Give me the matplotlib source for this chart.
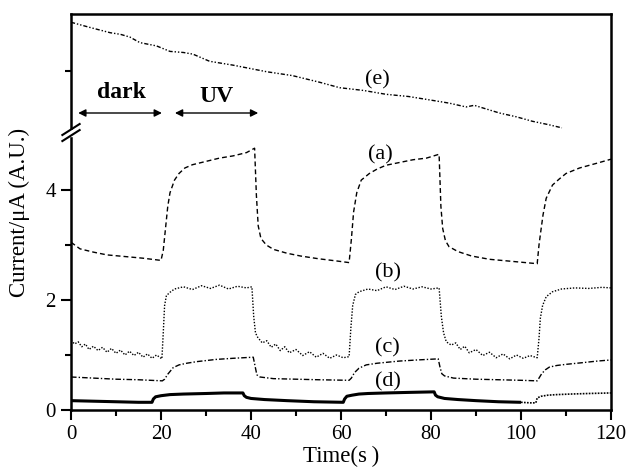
"""Photocurrent response under dark / UV cycles"""

import matplotlib
matplotlib.use("Agg")
import matplotlib.pyplot as plt
import matplotlib.transforms as mtransforms

plt.rcParams['font.family'] = ['Liberation Serif', 'DejaVu Serif']

# (a) dashed
time_a = [0, 2, 5, 8, 12, 16, 20, 20.5, 21, 21.5, 22, 23, 24, 25.3, 27, 30, 33,
          36, 39, 40.8, 41.2, 41.6, 42.2, 43.4, 45, 48, 51, 55, 59, 61.8, 62.3,
          62.8, 63.5, 64.5, 66.3, 68, 70, 73, 76, 79, 81.8, 82.2, 82.6, 83.2, 84,
          86, 89, 93, 97, 101, 103.6, 104, 104.4, 104.9, 105.6, 107, 108.5, 110,
          113, 117, 120]
current_a = [3.05, 2.93, 2.87, 2.82, 2.79, 2.76, 2.72, 2.9, 3.3, 3.7, 3.95, 4.18,
             4.3, 4.4, 4.46, 4.52, 4.58, 4.62, 4.68, 4.76, 3.9, 3.35, 3.12, 3.0,
             2.92, 2.85, 2.8, 2.75, 2.71, 2.68, 3.1, 3.6, 3.95, 4.18, 4.3, 4.38,
             4.45, 4.5, 4.55, 4.58, 4.65, 3.7, 3.3, 3.08, 2.97, 2.88, 2.8, 2.74,
             2.71, 2.68, 2.66, 3.0, 3.25, 3.55, 3.85, 4.09, 4.2, 4.3, 4.4, 4.49, 4.56]

# (b) dotted, noisy
time_b = [0, 0.8, 1.6, 2.4, 3.2, 4, 5, 6, 7, 8, 9, 10, 11, 12, 13, 14, 15, 16, 17,
          18, 19, 20.2, 20.5, 20.8, 21.2, 22, 23, 25, 27, 29, 31, 33, 35, 37, 39,
          40.2, 40.6, 41, 41.5, 42.5, 43.5, 44.5, 45.5, 46.5, 47.5, 48.5, 50, 51.5,
          53, 54.5, 56, 57.5, 59, 60.5, 61.8, 62.2, 62.6, 63.2, 64, 66, 68, 70, 72,
          74, 76, 78, 80, 81.8, 82.3, 82.8, 83.4, 84.5, 85.5, 86.5, 87.5, 88.5,
          90, 91.5, 93, 94.5, 96, 97.5, 99, 100.5, 102, 103.6, 104, 104.3, 104.8,
          105.6, 107, 109, 112, 115, 118, 120]
current_b = [1.27, 1.2, 1.24, 1.15, 1.2, 1.1, 1.16, 1.08, 1.14, 1.05, 1.12, 1.03,
             1.09, 1.0, 1.07, 0.99, 1.05, 0.96, 1.02, 0.94, 1.0, 0.93, 1.4, 1.9,
             2.08, 2.14, 2.2, 2.24, 2.19, 2.26, 2.21, 2.27, 2.2, 2.25, 2.22, 2.24,
             1.7, 1.4, 1.32, 1.22, 1.26, 1.14, 1.2, 1.08, 1.15, 1.04, 1.1, 0.99,
             1.06, 0.96, 1.03, 0.94, 1.0, 0.95, 0.97, 1.5, 1.9, 2.1, 2.15, 2.2, 2.17,
             2.24, 2.19, 2.25, 2.2, 2.24, 2.2, 2.22, 1.7, 1.4, 1.24, 1.18, 1.22, 1.1,
             1.16, 1.04, 1.1, 0.99, 1.05, 0.95, 1.02, 0.93, 1.0, 0.94, 0.99, 0.95,
             1.3, 1.67, 1.9, 2.06, 2.15, 2.2, 2.22, 2.21, 2.23, 2.22]

# (c) dash-dot
time_c = [0, 5, 10, 15, 20.3, 20.8, 21.5, 22.7, 24, 25.7, 28, 32.3, 36, 40.5, 40.9,
          41.3, 42, 45, 50, 55, 61.8, 62.3, 63, 64, 65.6, 68, 73, 77, 81.6, 82, 82.4,
          83, 85, 90, 95, 100, 103.6, 104, 104.6, 105.4, 106.3, 108, 110, 113.6,
          117, 120]
current_c = [0.6, 0.58, 0.56, 0.55, 0.53, 0.56, 0.65, 0.77, 0.82, 0.85, 0.88, 0.92,
             0.94, 0.96, 0.8, 0.64, 0.6, 0.57, 0.56, 0.55, 0.54, 0.58, 0.68, 0.76,
             0.82, 0.85, 0.89, 0.91, 0.93, 0.78, 0.66, 0.62, 0.58, 0.56, 0.55, 0.54,
             0.53, 0.58, 0.66, 0.73, 0.78, 0.81, 0.83, 0.86, 0.89, 0.91]

# (d) solid
time_d = [0, 5, 10, 15, 18, 18.3, 18.8, 20, 22, 25, 30, 34, 38.2, 38.5, 39, 40, 43,
          48, 54, 60.5, 60.8, 61.3, 62.5, 64, 66, 70, 75, 80.7, 81, 81.5, 83, 86,
          90, 95, 100]
current_d = [0.17, 0.16, 0.15, 0.14, 0.14, 0.2, 0.24, 0.26, 0.28, 0.29, 0.3, 0.31,
             0.31, 0.26, 0.23, 0.21, 0.19, 0.17, 0.15, 0.14, 0.2, 0.25, 0.27, 0.29,
             0.3, 0.31, 0.32, 0.33, 0.27, 0.24, 0.21, 0.19, 0.17, 0.15, 0.14]
time_d_tail = [100, 102, 103.3, 103.6, 104.5, 106, 108, 111, 115, 120]
current_d_tail = [0.14, 0.13, 0.13, 0.22, 0.25, 0.27, 0.28, 0.29, 0.3, 0.31]

# (e) upper curve, shown above the axis break
time_e = [0, 4, 8.7, 11, 13.1, 15.3, 19, 22, 25, 27.1, 30.8, 36, 43.5, 49.2, 55.2,
          59.7, 65, 70, 75, 80.3, 84, 87.8, 89.6, 95.2, 99, 102.5, 106, 109.1]
current_e = [7.05, 6.96, 6.86, 6.83, 6.78, 6.68, 6.62, 6.52, 6.5, 6.47, 6.34, 6.27,
             6.15, 6.08, 5.96, 5.86, 5.81, 5.74, 5.7, 5.63, 5.58, 5.51, 5.54, 5.4,
             5.33, 5.25, 5.19, 5.13]

curve_labels = ['(a)', '(b)', '(c)', '(d)', '(e)']
label_x = [68.7, 70.4, 70.4, 70.4, 68]
label_y = [4.64, 2.49, 1.13, 0.51, 6.0]

fig = plt.figure(figsize=(6.27, 4.70), dpi=100)
ax = fig.add_axes([71 / 627, 60 / 470, 540 / 627, 396 / 470])

ax.plot(time_a, current_a, color='black', lw=1.0, dashes=(3.5, 2.2))
ax.plot(time_b, current_b, color='black', lw=1.0, linestyle=(0, (1, 1.2)))
ax.plot(time_c, current_c, color='black', lw=1.0, dashes=(4, 1.5, 1, 1.5))
ax.plot(time_d, current_d, color='black', lw=2.2, solid_capstyle='butt')
ax.plot(time_d_tail, current_d_tail, color='black', lw=1.2, linestyle=(0, (1, 0.8)))
ax.plot(time_e, current_e, color='black', lw=1.0,
        dashes=(3, 1.4, 1, 1.4, 1, 1.4))

for lab, lx, ly in zip(curve_labels, label_x, label_y):
    ax.text(lx, ly, lab, fontsize=16, ha='center', va='center')

# dark / UV arrows
arrow = dict(arrowstyle='<|-|>', color='black', lw=1.0, mutation_scale=11,
             shrinkA=0, shrinkB=0)
ax.annotate('', xy=(1.6, 5.4), xytext=(20.2, 5.4), arrowprops=arrow)
ax.annotate('', xy=(23.1, 5.4), xytext=(41.6, 5.4), arrowprops=arrow)
ax.text(11.3, 5.78, 'dark', fontsize=17, fontweight='bold', ha='center', va='center')
ax.text(32.4, 5.7, 'UV', fontsize=17, fontweight='bold', ha='center', va='center')

ax.set_xlim(0, 120)
ax.set_ylim(0, 7.2)
ax.set_xticks([0, 20, 40, 60, 80, 100, 120])
ax.set_xticks([10, 30, 50, 70, 90, 110], minor=True)
ax.set_yticks([0, 2, 4])
ax.set_yticks([1, 3, 6.16], minor=True)
ax.tick_params(which='major', direction='out', length=7, width=1.5,
               labelsize=15, pad=4)
ax.tick_params(which='minor', direction='out', length=4, width=1.5)
for sp in ax.spines.values():
    sp.set_linewidth(1.8)

ax.set_xlabel('Time(s\u2009)', fontsize=16.5, labelpad=1)
ax.set_ylabel('Current/\u03bcA (A.U.)', fontsize=16.5, labelpad=11)

# axis break on the left spine
trans = mtransforms.blended_transform_factory(ax.transAxes, ax.transData)
ax.fill_between([-0.01, 0.01], [4.99, 4.99], [5.1, 5.1], color='white',
                transform=trans, clip_on=False, zorder=5)
for yc in [5.1, 4.99]:
    ax.plot([-0.016, 0.016], [yc - 0.1, yc + 0.1], color='black', lw=1.5,
            transform=trans, clip_on=False, zorder=6)

fig.savefig('out.png', dpi=100)
